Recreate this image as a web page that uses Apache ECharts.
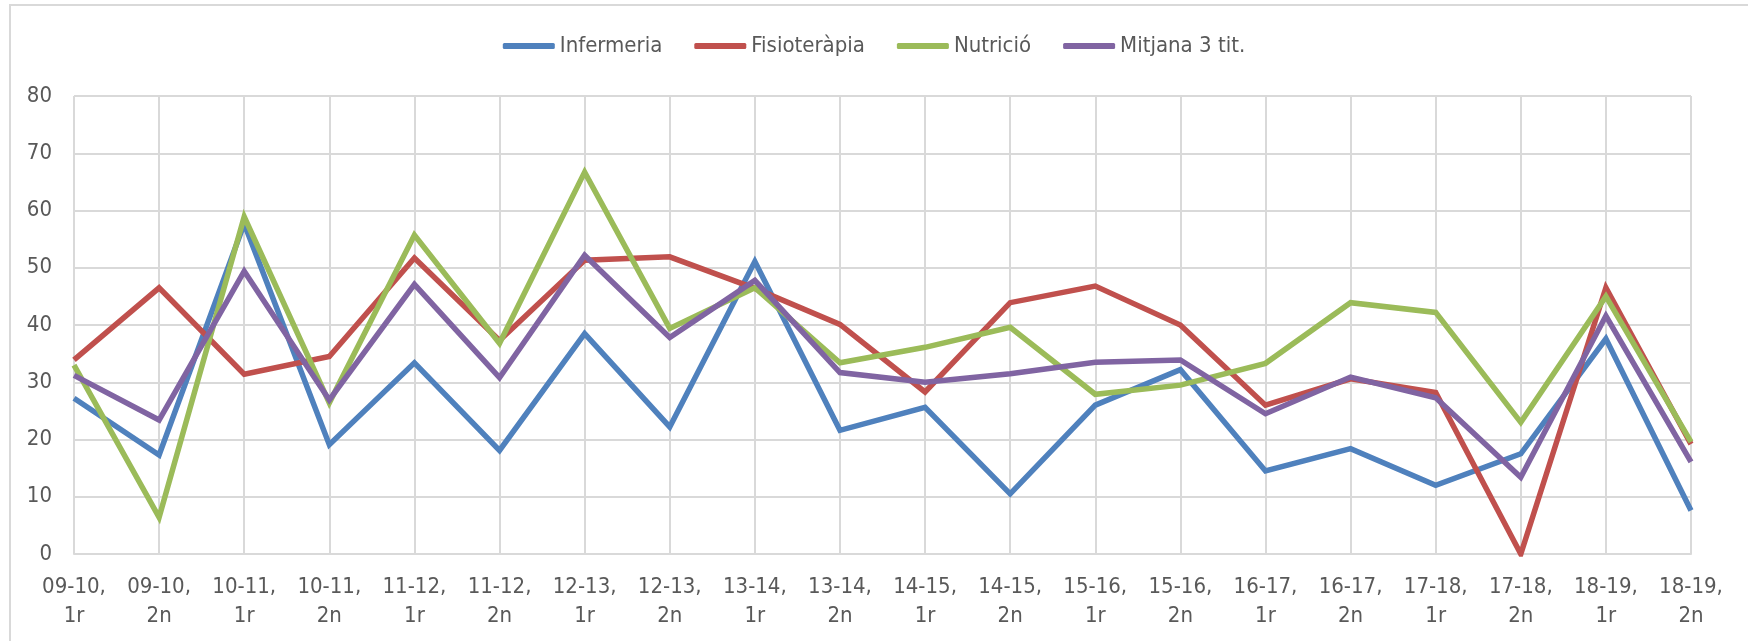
<!DOCTYPE html>
<html>
<head>
<meta charset="utf-8">
<script src="https://cdn.jsdelivr.net/npm/echarts@6/dist/echarts.min.js"></script>
<style>
  html, body { margin: 0; padding: 0; background: #fff; }
  #chart { width: 1748px; height: 641px; }
</style>
</head>
<body>
<div id="chart"></div>
<script>
// categories (curs, semestre)
var categories = [
  '09-10,\n1r', '09-10,\n2n', '10-11,\n1r', '10-11,\n2n', '11-12,\n1r',
  '11-12,\n2n', '12-13,\n1r', '12-13,\n2n', '13-14,\n1r', '13-14,\n2n',
  '14-15,\n1r', '14-15,\n2n', '15-16,\n1r', '15-16,\n2n', '16-17,\n1r',
  '16-17,\n2n', '17-18,\n1r', '17-18,\n2n', '18-19,\n1r', '18-19,\n2n'
];
var seriesNames = ['Infermeria', 'Fisioteràpia', 'Nutrició', 'Mitjana 3 tit.'];

var infermeria  = [27.2, 17.3, 57.7, 19.1, 33.4, 18.1, 38.5, 22.2, 51.1, 21.6, 25.6, 10.5, 26.0, 32.2, 14.5, 18.4, 12.0, 17.5, 37.6, 7.6];
var fisioterapia = [33.9, 46.5, 31.4, 34.5, 51.7, 37.3, 51.3, 51.9, 46.4, 40.1, 28.3, 43.9, 46.8, 40.0, 26.0, 30.6, 28.2, 0, 46.5, 19.2];
var nutricio    = [33.0, 6.4, 58.9, 26.4, 55.7, 36.8, 66.7, 39.4, 46.5, 33.4, 36.1, 39.6, 27.9, 29.5, 33.3, 43.9, 42.2, 23.0, 45.0, 19.6];
var mitjana     = [31.2, 23.4, 49.4, 26.9, 47.1, 30.8, 52.2, 37.8, 47.8, 31.7, 30.0, 31.5, 33.5, 33.9, 24.5, 30.9, 27.3, 13.4, 41.6, 16.1];

var colors = ['#4F81BD', '#C0504D', '#9BBB59', '#8064A2'];
var font = "'Liberation Sans Narrow', 'DejaVu Sans Condensed', sans-serif";

var chart = echarts.init(document.getElementById('chart'));

function makeLine(name, data, idx) {
  return {
    name: name,
    type: 'line',
    data: data,
    showSymbol: false,
    symbol: 'none',
    z: 2 + idx,
    lineStyle: { color: colors[idx], width: 5.5, join: 'miter' },
    itemStyle: { color: colors[idx] }
  };
}

var option = {
  animation: false,
  backgroundColor: '#fff',
  graphic: [{
    type: 'rect',
    shape: { x: 10, y: 5, width: 1800, height: 700 },
    style: { fill: 'none', stroke: '#D9D9D9', lineWidth: 2 },
    silent: true
  }],
  legend: {
    top: 30,
    left: 'center',
    itemWidth: 52,
    itemHeight: 6,
    itemGap: 32,
    icon: 'roundRect',
    textStyle: { fontFamily: font, fontSize: 22, color: '#595959' },
    data: seriesNames
  },
  grid: { left: 74, right: 57, top: 96, bottom: 87 },
  xAxis: {
    type: 'category',
    boundaryGap: false,
    data: categories,
    axisLine: { lineStyle: { color: '#D9D9D9', width: 2 } },
    axisTick: { show: false },
    splitLine: { show: true, lineStyle: { color: '#D9D9D9', width: 2 } },
    axisLabel: {
      interval: 0,
      margin: 19,
      fontFamily: font,
      fontSize: 22,
      lineHeight: 29,
      color: '#595959'
    }
  },
  yAxis: {
    type: 'value',
    min: 0,
    max: 80,
    interval: 10,
    axisLine: { show: false },
    axisTick: { show: false },
    splitLine: { lineStyle: { color: '#D9D9D9', width: 2 } },
    axisLabel: { margin: 22, fontFamily: font, fontSize: 22, color: '#595959' }
  },
  series: [
    makeLine(seriesNames[0], infermeria, 0),
    makeLine(seriesNames[1], fisioterapia, 1),
    makeLine(seriesNames[2], nutricio, 2),
    makeLine(seriesNames[3], mitjana, 3)
  ]
};
chart.setOption(option);
</script>
</body>
</html>
